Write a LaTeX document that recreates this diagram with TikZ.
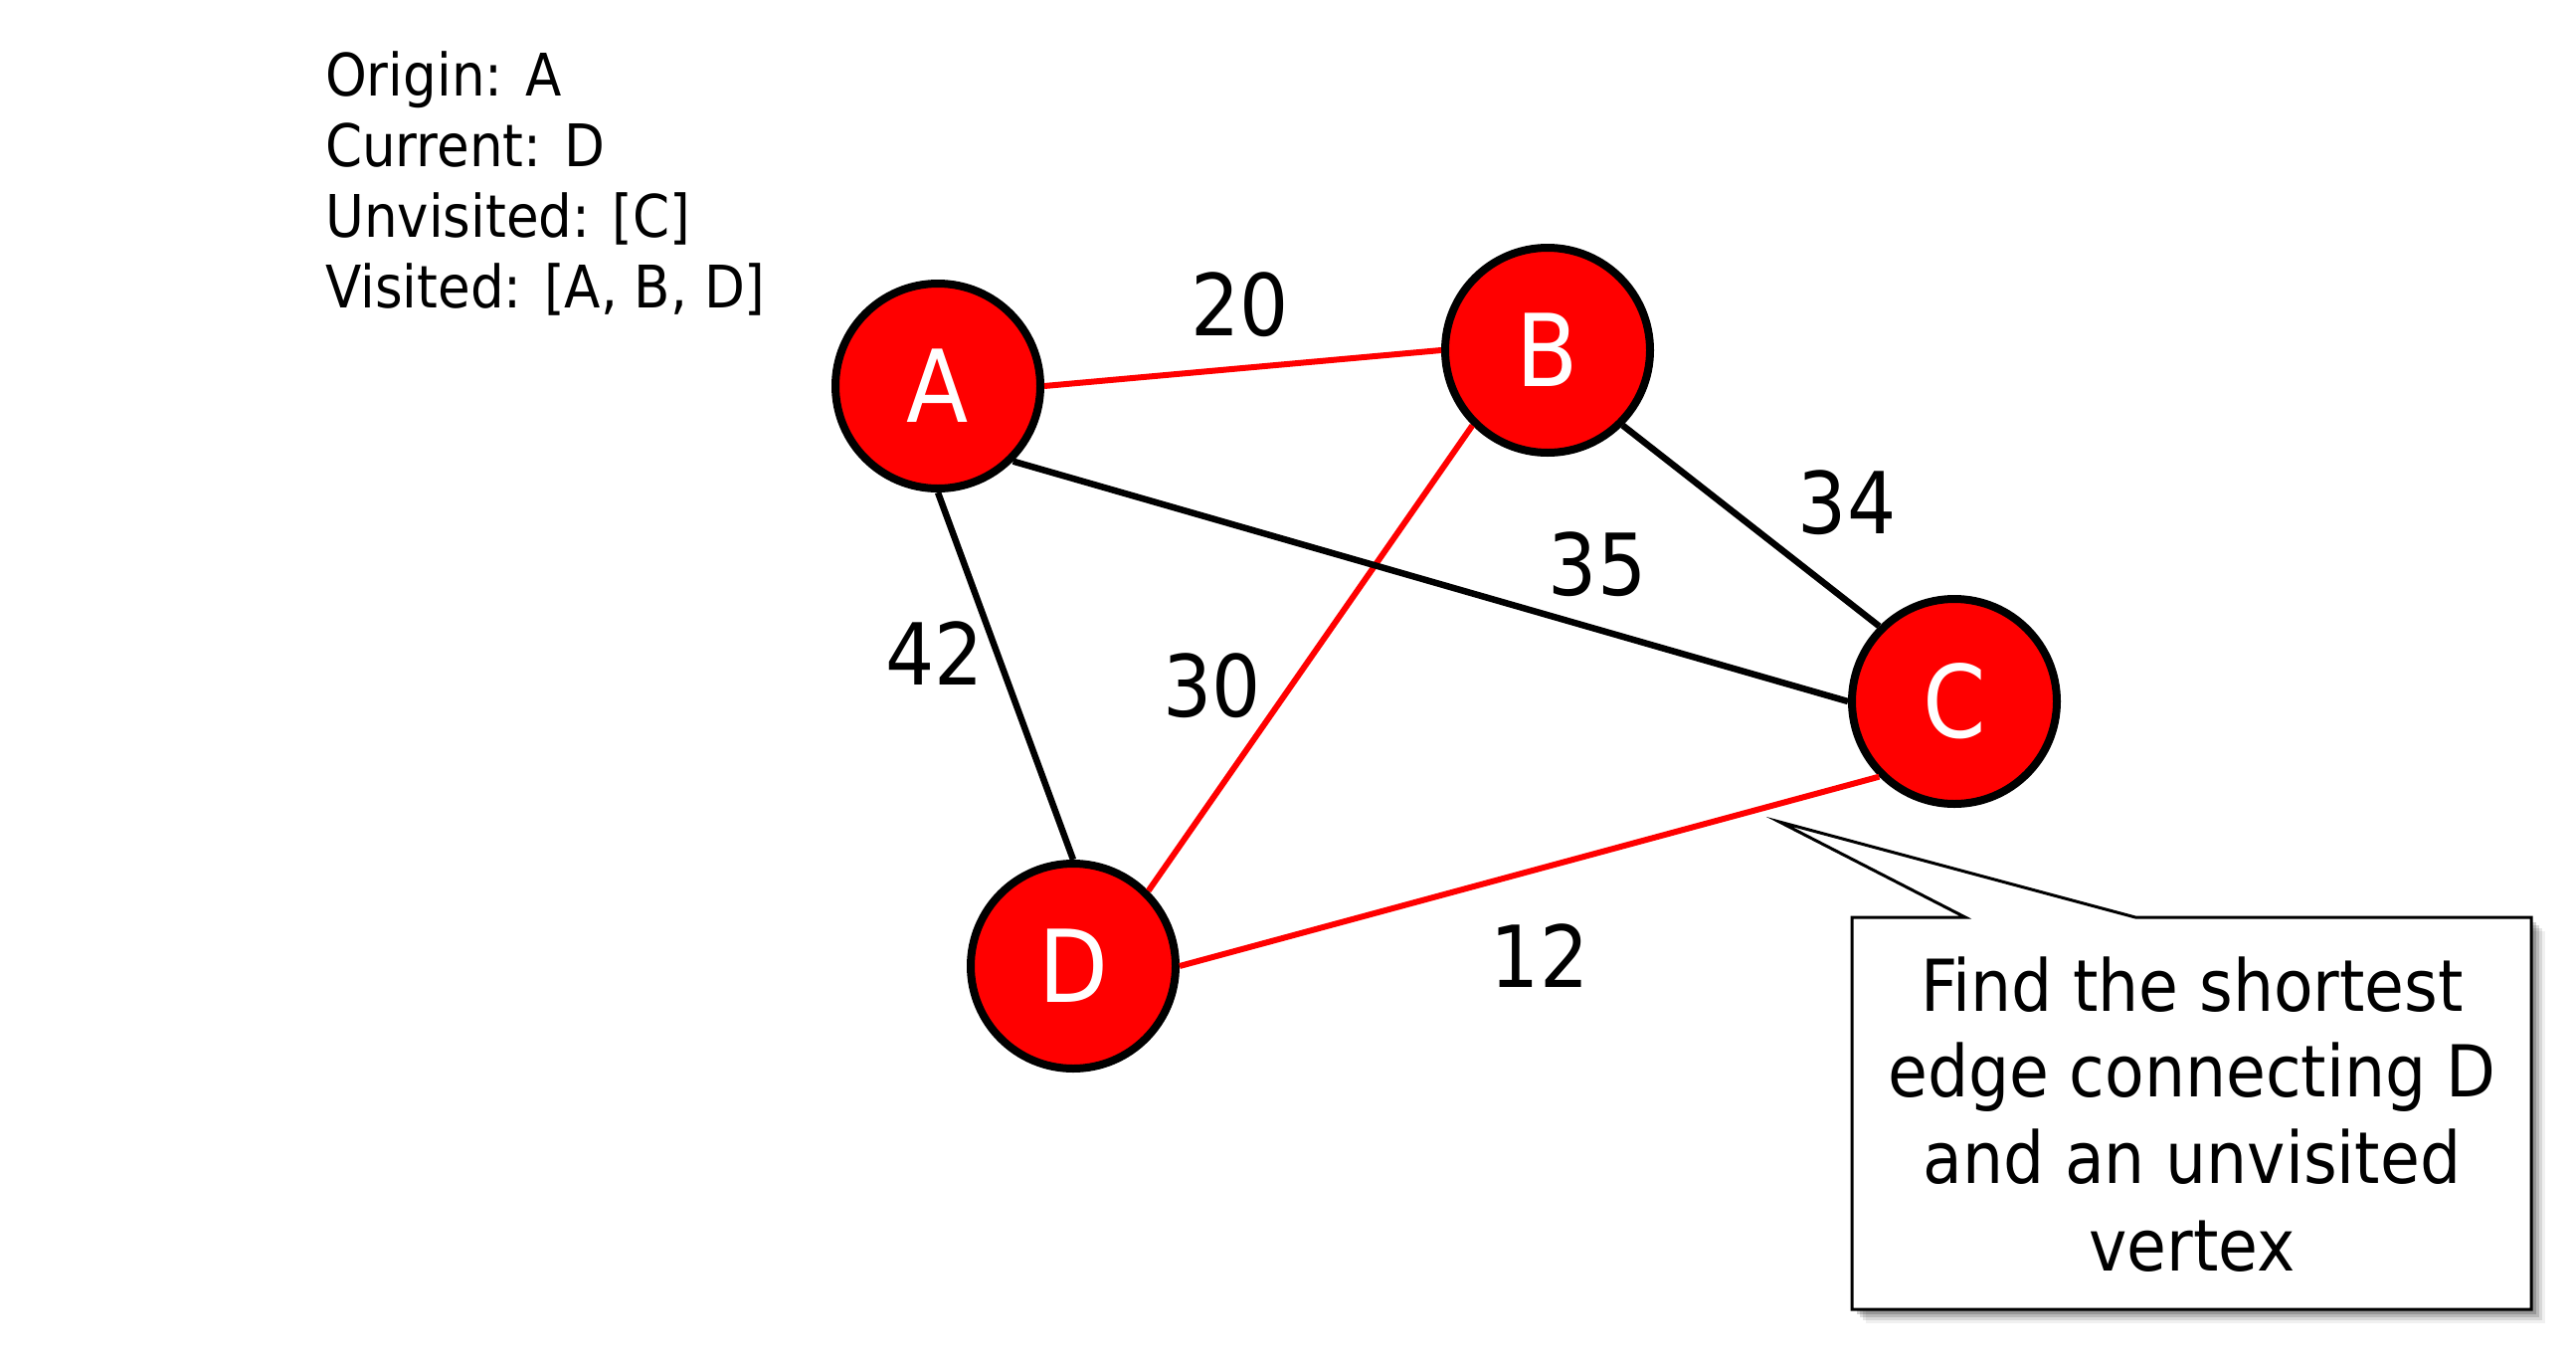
\documentclass[tikz,border=0pt]{standalone}
\usepackage{fontspec}
\setmainfont{DejaVu Sans}[FakeStretch=0.9]
\begin{document}
\begin{tikzpicture}[x=1pt,y=-1pt,
  vertex/.style={circle,draw=black,line width=8pt,fill={rgb,255:red,255;green,0;blue,0},minimum size=206pt,inner sep=0pt,text=white,font=\fontsize{101}{101}\selectfont},
  redge/.style={draw={rgb,255:red,255;green,0;blue,0},line width=6pt},
  bedge/.style={draw=black,line width=6.5pt},
  wlabel/.style={font=\fontsize{86}{86}\selectfont,inner sep=0pt},
  info/.style={font=\fontsize{59}{59}\selectfont,inner sep=0pt,anchor=base west},
  ctext/.style={font=\fontsize{72}{72}\selectfont,inner sep=0pt,anchor=base}]
\useasboundingbox (0,0) rectangle (2590,1376);
\fill[white] (0,0) rectangle (2590,1376);
% info text
\node[info] (t1) at (327,96) {Origin: A};
\node[info] (t2) at (327,167) {Current: D};
\node[info] (t3) at (327,238) {Unvisited: [C]};
\node[info] (t4) at (327,309) {Visited: [A, B, D]};
% edges (drawn under the vertices)
\coordinate (pA) at (943,388);
\coordinate (pB) at (1556,352);
\coordinate (pC) at (1965,705);
\coordinate (pD) at (1079,971);
% vertices
\node[vertex] (A) at (pA) {A};
\node[vertex] (B) at (pB) {B};
\node[vertex] (C) at (pC) {C};
\node[vertex] (D) at (pD) {D};
\draw[redge] (A.east) -- (B.west);
\draw[redge] (B.south west) -- (D.north east);
\draw[redge] (D.east) -- (C.south west);
\draw[bedge] (A.south east) -- (C.west);
\draw[bedge] (A.south) -- (D.north);
\draw[bedge] (B.south east) -- (C.north west);
% weights
\node[wlabel] (w20) at (1247,306) {20};
\node[wlabel] (w34) at (1857,505) {34};
\node[wlabel] (w35) at (1606,567) {35};
\node[wlabel] (w42) at (940,657) {42};
\node[wlabel] (w30) at (1219,689) {30};
\node[wlabel] (w12) at (1548,961) {12};
% callout
\coordinate (tip) at (1789,826);
\foreach \o/\op in {14/0.06,11/0.10,8/0.14,5/0.18}{
  \fill[black,opacity=\op] (1862+\o,922+\o) rectangle (2545+\o,1316+\o);
}
\draw[fill=white,line width=3pt,line join=miter]
  (1862,922) -- (1976,922) -- (tip) -- (2147,922) -- (2545,922) -- (2545,1316) -- (1862,1316) -- cycle;
\node[ctext] (c1) at (2204,1016) {Find the shortest};
\node[ctext] (c2) at (2204,1102) {edge connecting D};
\node[ctext] (c3) at (2204,1189) {and an unvisited};
\node[ctext] (c4) at (2204,1277) {vertex};
\end{tikzpicture}
\end{document}
